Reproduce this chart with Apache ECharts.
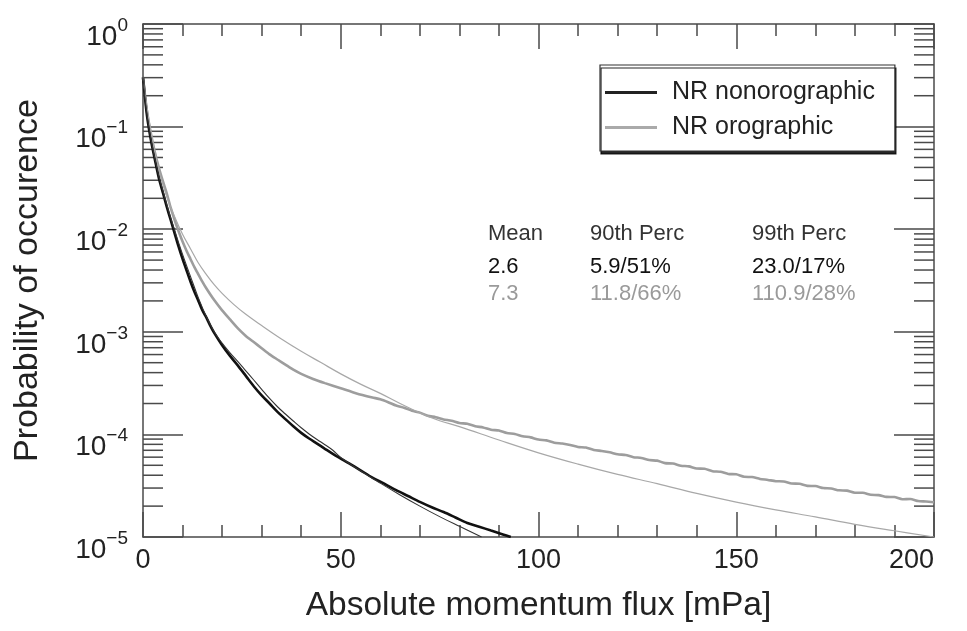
<!DOCTYPE html>
<html><head><meta charset="utf-8">
<script src="https://cdn.jsdelivr.net/npm/echarts@6/dist/echarts.min.js"></script>
<style>html,body{margin:0;padding:0;background:#fff}#c{width:967px;height:631px}</style>
</head><body><div id="c"></div>
<script>
// ---- data ----
const xNonoroData = [0,1,2,3,4,5,6,7,8,9,10,11,12,13,14,15,16,17,18,20,22,24,26,28,30,32,34,36,38,40,42,44,46,48,50,52,55,58,61,64,67,70,73,76,79,82,85,88,91,93];
const yNonoroData = [0.302,0.129,0.0741,0.0479,0.0316,0.0229,0.0166,0.0123,0.00912,0.00676,0.00513,0.00398,0.00309,0.00245,0.00200,0.00162,0.00138,0.00115,9.77e-4,7.41e-4,5.82e-4,4.68e-4,3.72e-4,2.95e-4,2.40e-4,2.00e-4,1.66e-4,1.41e-4,1.20e-4,1.035e-4,9.12e-5,8.13e-5,7.24e-5,6.46e-5,5.82e-5,5.25e-5,4.47e-5,3.80e-5,3.31e-5,2.86e-5,2.51e-5,2.20e-5,1.95e-5,1.75e-5,1.55e-5,1.37e-5,1.26e-5,1.155e-5,1.06e-5,1.0e-5];

const xNonoroFit = [0,1,2,3,4,5,6,7,8,9,10,12,14,16,18,20,22,24,26,28,30,32,34,36,38,40,42,44,46,48,50,55,60,65,70,75,80,85.6];
const yNonoroFit = [0.302,0.132,0.0759,0.0490,0.0331,0.0240,0.0174,0.0129,0.00977,0.00741,0.00569,0.00347,0.00214,0.00141,1.0e-3,7.76e-4,6.24e-4,5.13e-4,4.17e-4,3.39e-4,2.75e-4,2.24e-4,1.86e-4,1.58e-4,1.35e-4,1.16e-4,1.01e-4,8.91e-5,7.94e-5,7.0e-5,5.96e-5,4.42e-5,3.35e-5,2.57e-5,2.0e-5,1.58e-5,1.27e-5,1.0e-5];

const xOroData = [0,1,2,3,4,5,6,7,8,9,10,11,12,13,14,15,16,18,20,22,24,26,28,30,32,34,36,38,40,43,46,50,54,58,
  60,62,64,66,68,70,72,74,76,78,80,82,84,86,88,90,92,94,96,98,100,102,104,106,108,110,112,114,116,118,120,122,124,126,128,130,
  132,134,136,138,140,142,144,146,148,150,152,154,156,158,160,162,164,166,168,170,172,174,176,178,180,182,184,186,188,190,192,194,196,198,200];
const yOroData = [0.302,0.141,0.0851,0.0562,0.0398,0.0295,0.0224,0.0162,0.0123,0.00955,0.00759,0.00617,0.00513,0.00427,0.00363,0.00309,0.00266,0.00204,0.00162,0.00132,0.00108,9.12e-4,7.94e-4,6.92e-4,6.03e-4,5.37e-4,4.79e-4,4.27e-4,3.89e-4,3.47e-4,3.16e-4,2.82e-4,2.51e-4,2.29e-4,
  2.20e-4,2.06e-4,1.91e-4,1.82e-4,1.70e-4,1.63e-4,1.52e-4,1.47e-4,1.40e-4,1.36e-4,
  1.29e-4,1.27e-4,1.20e-4,1.17e-4,1.11e-4,1.09e-4,1.03e-4,1.01e-4,9.6e-5,9.35e-5,
  8.9e-5,8.75e-5,8.3e-5,8.15e-5,7.9e-5,7.55e-5,7.45e-5,7.05e-5,6.9e-5,6.7e-5,
  6.4e-5,6.3e-5,6.0e-5,5.9e-5,5.62e-5,5.55e-5,5.25e-5,5.2e-5,4.95e-5,4.88e-5,
  4.65e-5,4.62e-5,4.38e-5,4.33e-5,4.12e-5,4.08e-5,3.86e-5,3.84e-5,3.68e-5,3.6e-5,
  3.5e-5,3.48e-5,3.32e-5,3.3e-5,3.15e-5,3.14e-5,3.0e-5,2.97e-5,2.85e-5,2.83e-5,
  2.7e-5,2.7e-5,2.58e-5,2.56e-5,2.46e-5,2.45e-5,2.33e-5,2.35e-5,2.24e-5,2.22e-5,
  2.18e-5];

const xOroFit = [0,2,4,6,8,10,12,14,16,18,20,23,26,30,35,40,45,50,55,60,65,70,75,80,90,100,110,120,130,140,150,160,170,180,190,200];
const yOroFit = [0.302,0.0891,0.0380,0.0209,0.0132,0.00891,0.00646,0.00468,0.00363,0.00288,0.00237,0.00184,0.00148,0.00115,8.51e-4,6.46e-4,5.01e-4,3.89e-4,3.09e-4,2.51e-4,2.00e-4,1.62e-4,1.36e-4,1.19e-4,8.81e-5,6.61e-5,5.13e-5,4.07e-5,3.31e-5,2.66e-5,2.19e-5,1.84e-5,1.57e-5,1.33e-5,1.15e-5,1.0e-5];

const seriesNames = ['NR nonorographic', 'NR orographic'];
const xTickLabels = ['0','50','100','150','200'];
const statsHeader = ['Mean', '90th Perc', '99th Perc'];
const statsNonoro = ['2.6', '5.9/51%', '23.0/17%'];
const statsOro = ['7.3', '11.8/66%', '110.9/28%'];
const yDecadeExps = [-5,-4,-3,-2,-1,0];
const yMinorMult = [2,3,4,5,6,7,8,9];

// ---- build ----
const zip = (xs, ys) => xs.map((x, i) => [x, ys[i]]);
const FONT = '"Liberation Sans", Arial, Helvetica, sans-serif';
const AX = '#4a4a4a';

const yMinorData = [];
yDecadeExps.slice(0, -1).forEach(e => {
  yMinorMult.forEach(k => {
    const v = k * Math.pow(10, e);
    yMinorData.push([0, v]);
    yMinorData.push([200, v]);
  });
});

const statCols = [488, 590, 752];
const statRows = [{y: 234, txt: statsHeader, c: '#333'}, {y: 267, txt: statsNonoro, c: '#111'}, {y: 294, txt: statsOro, c: '#9a9a9a'}];
const graphics = [];
statRows.forEach(r => r.txt.forEach((t, i) => {
  graphics.push({type: 'text', x: statCols[i], y: r.y, silent: true,
    style: {text: t, fill: r.c, font: '22px ' + FONT, verticalAlign: 'middle', align: 'left'}});
}));

const xAxisBase = {
  type: 'value', min: 0, max: 200, interval: 50,
  axisLine: {show: true, onZero: false, lineStyle: {color: AX, width: 1.5}},
  axisTick: {show: true, inside: true, length: 25, lineStyle: {color: AX, width: 1.5}},
  minorTick: {show: true, splitNumber: 5, length: 12, lineStyle: {color: AX, width: 1.5}},
  splitLine: {show: false}, minorSplitLine: {show: false}
};
const yAxisBase = {
  type: 'log', logBase: 10, min: 1e-5, max: 1,
  axisLine: {show: true, onZero: false, lineStyle: {color: AX, width: 1.5}},
  axisTick: {show: true, inside: true, length: 40, lineStyle: {color: AX, width: 1.5}},
  splitLine: {show: false}
};

const option = {
  animation: false,
  backgroundColor: '#fff',
  grid: {left: 143, right: 33, top: 24, bottom: 94, containLabel: false, outerBoundsMode: 'none'},
  xAxis: [
    Object.assign({}, xAxisBase, {
      position: 'bottom',
      axisLabel: {fontSize: 27, color: '#222', margin: 10, fontFamily: FONT, alignMaxLabel: 'right',
        formatter: v => xTickLabels[Math.round(v / 50)]},
      name: 'Absolute momentum flux [mPa]', nameLocation: 'middle', nameGap: 52, nameMoveOverlap: false,
      nameTextStyle: {fontSize: 33.5, color: '#222', fontFamily: FONT}
    }),
    Object.assign({}, xAxisBase, {position: 'top', axisLabel: {show: false}})
  ],
  yAxis: [
    Object.assign({}, yAxisBase, {
      position: 'left',
      axisLabel: {
        margin: 15, color: '#222', fontFamily: FONT, padding: [26, 0, 0, 0],
        formatter: v => {
          const e = Math.round(Math.log10(v));
          return '{b|10}{e|' + (e < 0 ? '\u2212' + (-e) : String(e)) + '}';
        },
        rich: {
          b: {fontSize: 28, lineHeight: 42, fontFamily: FONT, color: '#222', verticalAlign: 'middle'},
          e: {fontSize: 19, lineHeight: 19, fontFamily: FONT, color: '#222', verticalAlign: 'top'}
        }
      },
      name: 'Probability of occurence', nameLocation: 'middle', nameGap: 98, nameRotate: 90, nameMoveOverlap: false,
      nameTextStyle: {fontSize: 34, color: '#222', fontFamily: FONT}
    }),
    Object.assign({}, yAxisBase, {position: 'right', axisLabel: {show: false}})
  ],
  legend: {
    orient: 'vertical', left: 600, top: 65, align: 'left',
    padding: [15, 20, 11, 5], itemGap: 10, itemWidth: 52, itemHeight: 3,
    backgroundColor: '#fff', borderColor: '#333', borderWidth: 1.2,
    shadowColor: 'rgba(0,0,0,0.85)', shadowBlur: 0, shadowOffsetX: 1, shadowOffsetY: 3,
    selectedMode: false,
    textStyle: {fontSize: 25, color: '#222', fontFamily: FONT, padding: [0, 0, 0, 10]},
    data: [
      {name: seriesNames[0], icon: 'rect', itemStyle: {color: '#222'}},
      {name: seriesNames[1], icon: 'rect', itemStyle: {color: '#aaa'}}
    ]
  },
  graphic: graphics,
  series: [
    {type: 'custom', name: 'yMinor', silent: true, encode: {x: 0, y: 1}, z: 1,
      data: yMinorData,
      renderItem: (params, api) => {
        const side = api.value(0);
        const p = api.coord([side, api.value(1)]);
        const dir = side === 0 ? 1 : -1;
        return {type: 'line', shape: {x1: p[0], y1: p[1], x2: p[0] + dir * 20, y2: p[1]},
          style: {stroke: AX, lineWidth: 1.5}};
      }},
    {type: 'line', name: seriesNames[1], data: zip(xOroData, yOroData), showSymbol: false, symbol: 'none',
      smooth: 0.2, lineStyle: {color: '#9d9d9d', width: 2.6}, itemStyle: {color: '#9d9d9d'}, z: 3},
    {type: 'line', name: seriesNames[0], data: zip(xNonoroData, yNonoroData), showSymbol: false, symbol: 'none',
      smooth: 0.3, lineStyle: {color: '#111', width: 2.6}, itemStyle: {color: '#111'}, z: 4},
    {type: 'line', name: 'orographic fit', data: zip(xOroFit, yOroFit), showSymbol: false, symbol: 'none',
      smooth: 0.4, lineStyle: {color: '#a8a8a8', width: 1.2}, z: 5},
    {type: 'line', name: 'nonorographic fit', data: zip(xNonoroFit, yNonoroFit), showSymbol: false, symbol: 'none',
      smooth: 0.4, lineStyle: {color: '#333', width: 1.1}, z: 6}
  ]
};

const chart = echarts.init(document.getElementById('c'), null, {renderer: 'canvas'});
chart.setOption(option);
</script></body></html>
